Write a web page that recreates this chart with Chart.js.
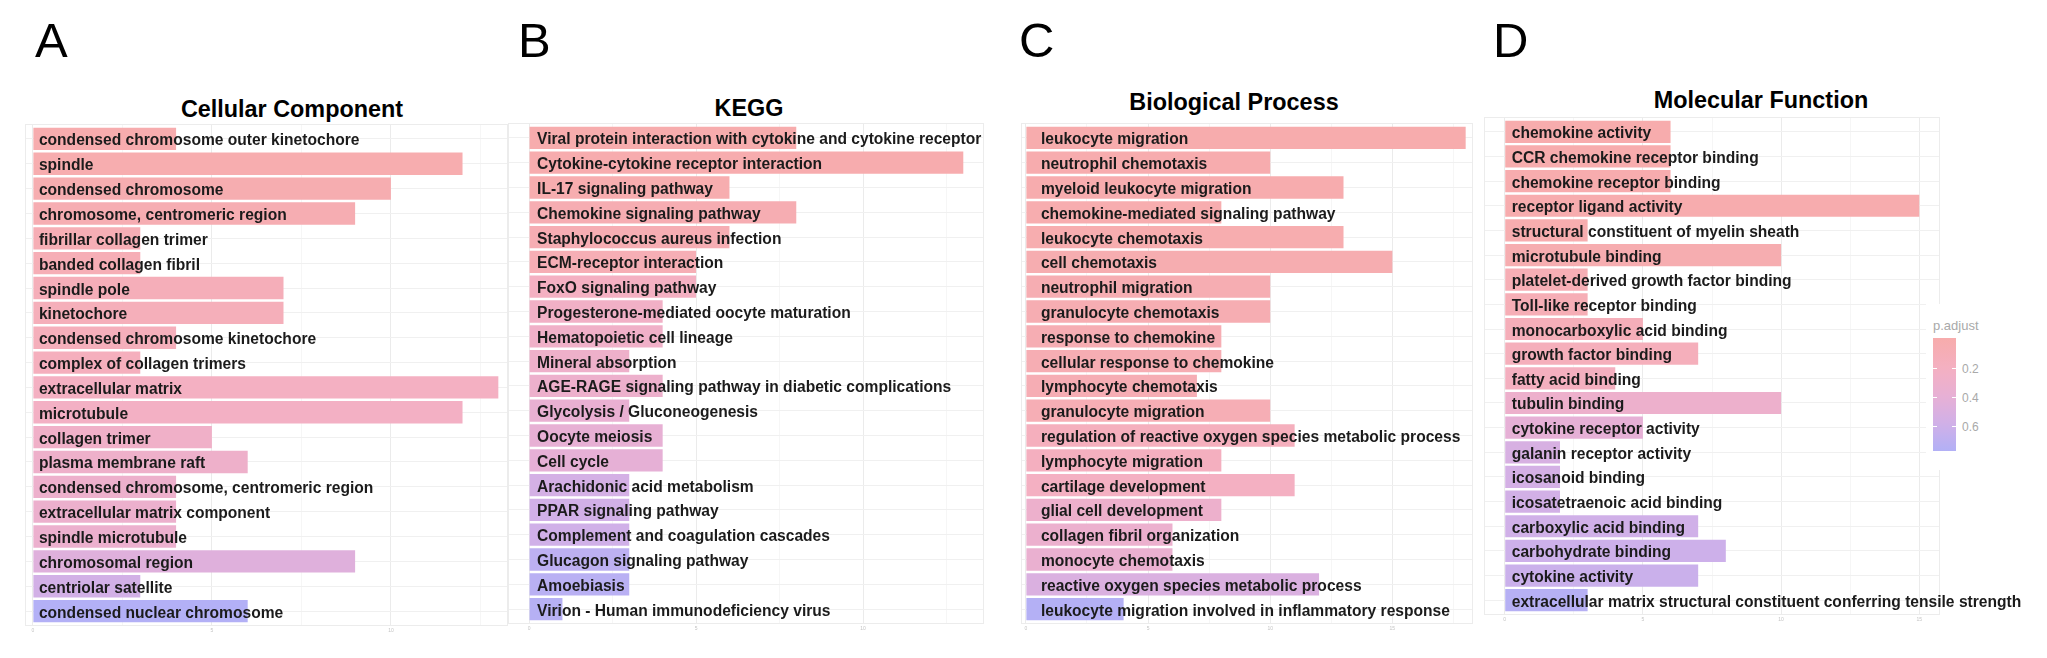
<!DOCTYPE html>
<html><head><meta charset="utf-8">
<script src="https://cdn.jsdelivr.net/npm/chart.js@4.4.1/dist/chart.umd.min.js"></script>
<style>
html,body{margin:0;padding:0;background:#fff;width:2047px;height:658px;overflow:hidden;font-family:"Liberation Sans",Arial,sans-serif;}
.abs{position:absolute;}
.letter{font-size:49px;line-height:1;color:#000;}
.title{font-size:23.4px;font-weight:bold;line-height:1;color:#000;transform:translateX(-50%);white-space:nowrap;}
canvas{position:absolute;}
.lg{color:#a9a9a9;line-height:1;white-space:nowrap;}
</style></head><body>
<div class="abs letter" style="left:35px;top:15.6px">A</div>
<div class="abs letter" style="left:518px;top:15.6px">B</div>
<div class="abs letter" style="left:1019px;top:15.6px">C</div>
<div class="abs letter" style="left:1493px;top:15.6px">D</div>
<div class="abs title" style="left:292px;top:98.2px">Cellular Component</div>
<div class="abs title" style="left:749px;top:97.2px">KEGG</div>
<div class="abs title" style="left:1234px;top:91.2px">Biological Process</div>
<div class="abs title" style="left:1761px;top:89.2px">Molecular Function</div>
<canvas id="cA"></canvas>
<canvas id="cB"></canvas>
<canvas id="cC"></canvas>
<canvas id="cD"></canvas>
<div id="legend" class="abs" style="left:1926px;top:304px;width:80px;height:166px;background:#fff;"></div>
<script>
// ---------- DATA ----------
const ccTerms = ["condensed chromosome outer kinetochore","spindle","condensed chromosome","chromosome, centromeric region","fibrillar collagen trimer","banded collagen fibril","spindle pole","kinetochore","condensed chromosome kinetochore","complex of collagen trimers","extracellular matrix","microtubule","collagen trimer","plasma membrane raft","condensed chromosome, centromeric region","extracellular matrix component","spindle microtubule","chromosomal region","centriolar satellite","condensed nuclear chromosome"];
const ccCount = [4,12,10,9,3,3,7,7,4,3,13,12,5,6,4,4,4,9,3,6];
const ccPadj  = [0.02,0.03,0.04,0.05,0.08,0.09,0.12,0.13,0.14,0.15,0.2,0.22,0.26,0.28,0.3,0.31,0.32,0.46,0.56,0.76];

const keggTerms = ["Viral protein interaction with cytokine and cytokine receptor","Cytokine-cytokine receptor interaction","IL-17 signaling pathway","Chemokine signaling pathway","Staphylococcus aureus infection","ECM-receptor interaction","FoxO signaling pathway","Progesterone-mediated oocyte maturation","Hematopoietic cell lineage","Mineral absorption","AGE-RAGE signaling pathway in diabetic complications","Glycolysis / Gluconeogenesis","Oocyte meiosis","Cell cycle","Arachidonic acid metabolism","PPAR signaling pathway","Complement and coagulation cascades","Glucagon signaling pathway","Amoebiasis","Virion - Human immunodeficiency virus"];
const keggCount = [8,13,6,8,6,5,5,4,4,3,4,3,4,4,3,3,3,3,3,1];
const keggPadj  = [0.01,0.02,0.03,0.05,0.06,0.08,0.2,0.24,0.26,0.28,0.3,0.36,0.38,0.4,0.55,0.57,0.58,0.7,0.72,0.74];

const bpTerms = ["leukocyte migration","neutrophil chemotaxis","myeloid leukocyte migration","chemokine-mediated signaling pathway","leukocyte chemotaxis","cell chemotaxis","neutrophil migration","granulocyte chemotaxis","response to chemokine","cellular response to chemokine","lymphocyte chemotaxis","granulocyte migration","regulation of reactive oxygen species metabolic process","lymphocyte migration","cartilage development","glial cell development","collagen fibril organization","monocyte chemotaxis","reactive oxygen species metabolic process","leukocyte migration involved in inflammatory response"];
const bpCount = [18,10,13,8,13,15,10,10,8,8,7,10,11,8,11,8,6,6,12,4];
const bpPadj  = [0.01,0.02,0.02,0.03,0.03,0.04,0.05,0.05,0.06,0.06,0.07,0.08,0.15,0.17,0.2,0.3,0.32,0.34,0.5,0.75];

const mfTerms = ["chemokine activity","CCR chemokine receptor binding","chemokine receptor binding","receptor ligand activity","structural constituent of myelin sheath","microtubule binding","platelet-derived growth factor binding","Toll-like receptor binding","monocarboxylic acid binding","growth factor binding","fatty acid binding","tubulin binding","cytokine receptor activity","galanin receptor activity","icosanoid binding","icosatetraenoic acid binding","carboxylic acid binding","carbohydrate binding","cytokine activity","extracellular matrix structural constituent conferring tensile strength"];
const mfCount = [6,6,6,15,3,10,3,3,5,7,4,10,5,2,2,2,7,8,7,3];
const mfPadj  = [0.01,0.01,0.02,0.02,0.03,0.04,0.08,0.09,0.12,0.14,0.17,0.3,0.4,0.52,0.55,0.56,0.58,0.6,0.62,0.74];

const xTicks15 = [0,2.5,5,7.5,10,12.5];
const xTicks20 = [0,2.5,5,7.5,10,12.5,15,17.5];
const xTicksMF = [0,2.5,5,7.5,10,12.5,15];
const legendTicks = [0.2,0.4,0.6];
const legendRange = [-0.01,0.765];

// ---------- COLOUR SCALE ----------
const stops = [[0,[247,172,172]],[0.2,[244,176,194]],[0.4,[230,176,214]],[0.58,[208,176,232]],[0.765,[178,176,246]]];
function colorFor(p){
  if(p<=stops[0][0]) return `rgb(${stops[0][1].join(',')})`;
  for(let i=1;i<stops.length;i++){
    if(p<=stops[i][0]){
      const [p0,c0]=stops[i-1],[p1,c1]=stops[i];
      const t=(p-p0)/(p1-p0);
      return `rgb(${c0.map((v,k)=>Math.round(v+(c1[k]-v)*t)).join(',')})`;
    }
  }
  return `rgb(${stops[stops.length-1][1].join(',')})`;
}

// ---------- PLUGIN ----------
const termPlugin = {
  id:'termLabels',
  beforeDatasetsDraw(chart){
    const a=chart.chartArea, ctx=chart.ctx;
    ctx.save(); ctx.strokeStyle='#ececec'; ctx.lineWidth=1;
    ctx.strokeRect(a.left+0.5,a.top+0.5,a.right-a.left-1,a.bottom-a.top-1);
    ctx.restore();
  },
  afterDatasetsDraw(chart,args,opts){
    const {ctx,scales:{x,y}}=chart;
    ctx.save();
    ctx.font=`bold ${opts.size}px "Liberation Sans", Arial, sans-serif`;
    ctx.fillStyle='#1b1b1b';
    ctx.textBaseline='alphabetic';
    const x0=x.getPixelForValue(0)+opts.offset;
    opts.terms.forEach((t,i)=>ctx.fillText(t,x0,y.getPixelForValue(i)+opts.base));
    ctx.restore();
  }
};

function makePanel(id, lay, terms, counts, padj, ticks){
  const cv=document.getElementById(id);
  const W=lay.w+(lay.padRight||0), H=lay.h+8;
  cv.width=W; cv.height=H;
  cv.style.left=lay.left+'px'; cv.style.top=lay.top+'px';
  cv.style.width=W+'px'; cv.style.height=H+'px';
  new Chart(cv,{
    type:'bar',
    data:{datasets:[{
      data:counts.map((v,i)=>({x:v,y:i})),
      backgroundColor:padj.map(colorFor),
      borderWidth:0,
      barPercentage:0.9,
      categoryPercentage:1.0
    }]},
    options:{
      indexAxis:'y',
      responsive:false,
      animation:false,
      devicePixelRatio:1,
      layout:{padding:{left:0,right:lay.padRight||0,top:0,bottom:0}},
      plugins:{legend:{display:false},tooltip:{enabled:false},
        termLabels:{terms:terms,offset:lay.offset,size:15.6,base:6.5}},
      scales:{
        x:{type:'linear',min:lay.xmin,max:lay.xmax,offset:false,
          afterBuildTicks:s=>{s.ticks=ticks.map(v=>({value:v}));},
          border:{display:false},
          grid:{drawTicks:false,offset:false,color:c=>(c.tick&&c.tick.value%5===0)?'#ebebeb':'#f6f6f6',lineWidth:1},
          ticks:{font:{size:5,family:'"Liberation Sans", Arial, sans-serif'},color:'#c4c4c4',padding:2,maxRotation:0,autoSkip:false,
            callback:v=>(v%5===0?String(v):'')}},
        y:{type:'linear',reverse:true,min:-0.6,max:counts.length-0.4,offset:false,
          afterBuildTicks:s=>{s.ticks=counts.map((v,i)=>({value:i}));},
          border:{display:false},
          grid:{drawTicks:false,offset:false,color:'#f0f0f0'},
          ticks:{display:false}}
      }
    },
    plugins:[termPlugin]
  });
}

makePanel('cA',{left:25,top:124,w:483,h:504,xmin:-0.22,xmax:13.27,offset:6},ccTerms,ccCount,ccPadj,xTicks15);
makePanel('cB',{left:508,top:123,w:476,h:503,xmin:-0.63,xmax:13.62,offset:8},keggTerms,keggCount,keggPadj,xTicks15);
makePanel('cC',{left:1021,top:123,w:452,h:503,xmin:-0.2,xmax:18.3,offset:15},bpTerms,bpCount,bpPadj,xTicks20);
makePanel('cD',{left:1484,top:117,w:456,h:500,xmin:-0.75,xmax:15.75,offset:7,padRight:110},mfTerms,mfCount,mfPadj,xTicksMF);

// ---------- LEGEND ----------
(function(){
  const lg=document.getElementById('legend');
  const barTop=34, barH=113, barL=7, barW=23;
  const t=document.createElement('div');
  t.className='abs lg'; t.style.cssText+='left:7px;top:15px;font-size:13px;';
  t.textContent='p.adjust'; lg.appendChild(t);
  const n=12, parts=[];
  for(let i=0;i<=n;i++){const p=legendRange[0]+(legendRange[1]-legendRange[0])*i/n; parts.push(colorFor(p)+' '+(i/n*100)+'%');}
  const bar=document.createElement('div');
  bar.className='abs';
  bar.style.cssText=`left:${barL}px;top:${barTop}px;width:${barW}px;height:${barH}px;background:linear-gradient(to bottom,${parts.join(',')});`;
  lg.appendChild(bar);
  legendTicks.forEach(v=>{
    const y=barTop+(v-legendRange[0])/(legendRange[1]-legendRange[0])*barH;
    [0,barW-4].forEach(dx=>{
      const m=document.createElement('div'); m.className='abs';
      m.style.cssText=`left:${barL+dx}px;top:${y-0.5}px;width:4px;height:1px;background:#fff;`;
      lg.appendChild(m);
    });
    const l=document.createElement('div'); l.className='abs lg';
    l.style.cssText+=`left:${barL+barW+6}px;top:${y-6}px;font-size:12px;`;
    l.textContent=String(v); lg.appendChild(l);
  });
})();
</script>
</body></html>
